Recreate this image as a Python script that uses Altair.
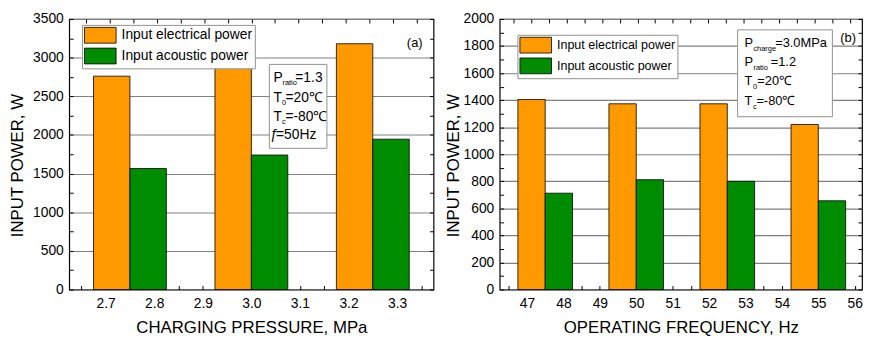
import altair as alt
import pandas as pd

# ---------------- data ----------------
series = ["Input electrical power", "Input acoustic power"]
colors = ["#FF9900", "#008C00"]

pressure_groups = [2.75, 3.0, 3.25]          # group centres (MPa)
elec_a = [2760, 2905, 3180]
acou_a = [1565, 1740, 1945]

freq_groups = [47.5, 50.0, 52.5, 55.0]       # group centres (Hz)
elec_b = [1405, 1373, 1373, 1220]
acou_b = [712, 812, 800, 656]

x_ticks_a = [2.65, 2.7, 2.75, 2.8, 2.85, 2.9, 2.95, 3.0, 3.05, 3.1, 3.15, 3.2, 3.25, 3.3, 3.35]
x_ticks_b = [46.5, 47, 47.5, 48, 48.5, 49, 49.5, 50, 50.5, 51, 51.5, 52, 52.5, 53, 53.5,
             54, 54.5, 55, 55.5, 56]
y_ticks_a = list(range(0, 3501, 250))
y_ticks_b = list(range(0, 2001, 100))

FONT = "Liberation Sans"


def bar_table(centres, elec, acou, w):
    rows = []
    for c, e, a in zip(centres, elec, acou):
        rows.append({"series": series[0], "x0": c - w, "x1": c, "value": e})
        rows.append({"series": series[1], "x0": c, "x1": c + w, "value": a})
    return pd.DataFrame(rows)


def text_layer(pieces, italic):
    tdf = pd.DataFrame([p for p in pieces if (p[4] == "italic") == italic],
                       columns=["text", "px", "py", "size", "style"])
    return alt.Chart(tdf).mark_text(align="left", baseline="middle", font=FONT, color="black",
                                    fontStyle="italic" if italic else "normal").encode(
        x=alt.X("px:Q", scale=None, axis=None),
        y=alt.Y("py:Q", scale=None, axis=None),
        text="text:N",
        size=alt.Size("size:Q", scale=None, legend=None),
    )


def panel(df, xdom, xvals, xlabel_expr, xtitle, ydom, yvals, ymajor, width, height,
          legend_xy, legend_font, pieces, box, y_title_pad):
    grid_cond = {"condition": {"test": f"datum.value % {ymajor} === 0", "value": 1}, "value": 0}
    xaxis = alt.Axis(values=xvals, labelExpr=xlabel_expr, orient="bottom", offset=-4,
                     tickSize=4, domain=False, grid=False, labelPadding=7, title=xtitle,
                     titlePadding=10)
    yaxis = alt.Axis(values=yvals,
                     labelExpr=f"datum.value % {ymajor} === 0 ? format(datum.value, 'd') : ''",
                     orient="left", offset=-4, tickSize=4, domain=False, grid=True,
                     gridOpacity=grid_cond, gridColor="#808080", gridWidth=1.2,
                     labelPadding=6, title="INPUT POWER, W", titlePadding=y_title_pad,
                     titleY=148)
    bars = alt.Chart(df).mark_bar(stroke="black", strokeWidth=0.8).encode(
        x=alt.X("x0:Q", scale=alt.Scale(domain=xdom, nice=False, zero=False), axis=xaxis),
        x2="x1:Q",
        y=alt.Y("value:Q", scale=alt.Scale(domain=ydom, nice=False), axis=yaxis),
        y2=alt.datum(0),
        color=alt.Color("series:N", sort=series,
                        scale=alt.Scale(domain=series, range=colors),
                        legend=alt.Legend(orient="none", legendX=legend_xy[0], legendY=legend_xy[1],
                                          title=None,
                                          symbolType="M-1,-1H3V1H-1Z", symbolSize=256,
                                          symbolStrokeColor="black", symbolStrokeWidth=0.8,
                                          labelFontSize=legend_font, labelFont=FONT,
                                          labelColor="black", fillColor="white",
                                          strokeColor="#909090", padding=2, rowPadding=0,
                                          labelOffset=21, symbolOpacity=1)),
    )
    mirror = alt.Chart(df).mark_bar(opacity=0).encode(
        x=alt.X("x0:Q", scale=alt.Scale(domain=xdom, nice=False, zero=False),
                axis=alt.Axis(values=xvals, orient="top", offset=-4, tickSize=4, labels=False,
                              domain=False, grid=False, title=None)),
        y=alt.Y("value:Q", scale=alt.Scale(domain=ydom, nice=False),
                axis=alt.Axis(values=yvals, orient="right", offset=-4, tickSize=4, labels=False,
                              domain=False, grid=False, title=None)),
    )
    boxdf = pd.DataFrame([{"k": 1}])
    rect = alt.Chart(boxdf).mark_rect(fill="white", stroke="#909090", strokeWidth=1).encode(
        x=alt.value(box[0]), x2=alt.value(box[1]), y=alt.value(box[2]), y2=alt.value(box[3]))
    layers = [bars, mirror, rect, text_layer(pieces, False)]
    if any(p[4] == "italic" for p in pieces):
        layers.append(text_layer(pieces, True))
    return alt.layer(*layers).resolve_scale(
        x="independent", y="independent").properties(width=width, height=height)


df_a = bar_table(pressure_groups, elec_a, acou_a, 0.075)
df_b = bar_table(freq_groups, elec_b, acou_b, 0.75)

pieces_a = [
    ("P", 207, 60, 14, "normal"), ("ratio", 216, 65, 7.5, "normal"), ("=1.3", 229, 60, 14, "normal"),
    ("T", 207, 80, 14, "normal"), ("0", 215.5, 85, 7.5, "normal"), ("=20\u2103", 219, 80, 14, "normal"),
    ("T", 207, 99, 14, "normal"), ("c", 215.5, 104, 7.5, "normal"), ("=-80\u2103", 219, 99, 14, "normal"),
    ("\u0192", 203, 118, 14, "italic"), ("=50Hz", 209.5, 118, 14, "normal"),
    ("(a)", 342, 24, 13, "normal"),
]
pieces_b = [
    ("P", 248, 24, 13, "normal"), ("charge", 257, 30, 7.5, "normal"), ("=3.0MPa", 279, 24, 13, "normal"),
    ("P", 248, 44, 13, "normal"), ("ratio", 257, 50, 7.5, "normal"), ("=1.2", 274.5, 44, 13, "normal"),
    ("T", 248, 63, 13, "normal"), ("0", 256.5, 69, 7.5, "normal"), ("=20\u2103", 261, 63, 13, "normal"),
    ("T", 248, 83, 13, "normal"), ("c", 256.5, 89, 7.5, "normal"), ("=-80\u2103", 260, 83, 13, "normal"),
    ("(b)", 345, 19, 13, "normal"),
]

left = panel(df_a, [2.625, 3.375], x_ticks_a,
             "abs(datum.value*10 - round(datum.value*10)) < 0.001 ? format(datum.value, '.1f') : ''",
             "CHARGING PRESSURE, MPa", [0, 3500], y_ticks_a, 500, 369, 274,
             (13, 6), 14, pieces_a, (202.7, 261, 46, 131), 6)
right = panel(df_b, [46.25, 56.2], x_ticks_b,
              "datum.value % 1 === 0 ? format(datum.value, 'd') : ''",
              "OPERATING FREQUENCY, Hz", [0, 2000], y_ticks_b, 200, 367, 274,
              (18, 16), 12.7, pieces_b, (241, 337, 11, 99), 1)

chart = alt.hconcat(left, right, spacing=67, bounds="flush").resolve_scale(
    color="independent").resolve_legend(color="independent").properties(
    padding={"left": 0, "top": 1, "right": 0, "bottom": 0},
).configure_view(stroke="black", strokeWidth=1.2).configure_axis(
    labelFont=FONT, labelFontSize=14, labelColor="black", titleFont=FONT, titleFontSize=17,
    titleFontWeight="normal", titleColor="black", tickColor="black", tickWidth=1,
)

chart.save("out.html", embed_options={"renderer": "svg", "actions": False})
